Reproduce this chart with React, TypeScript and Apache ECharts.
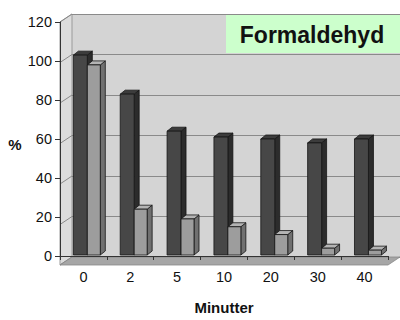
import React, { useEffect, useRef } from "react";
import * as echarts from "echarts";

const categories = ["0", "2", "5", "10", "20", "30", "40"];
const darkValues = [103, 83, 64, 61, 60, 58, 60];
const lightValues = [98, 24, 19, 15, 11, 4, 3];
const yTicks = [0, 20, 40, 60, 80, 100, 120];

const FRONT = { left: 60, top: 22, width: 328, height: 243 };
const DEPTH = { dx: 12, dy: -8 };
const BAR_D = { dx: 5, dy: -4 };

function makeBarSeries(values: number[], off0: number, off1: number, colors: { front: string; side: string; top: string }) {
  return {
    type: "custom",
    xAxisIndex: 0,
    yAxisIndex: 0,
    z: 5,
    encode: { x: 0, y: 1 },
    data: values.map((v, i) => [i, v]),
    renderItem: (params: any, api: any) => {
      const idx = api.value(0);
      const v = api.value(1);
      const base = api.coord([idx, 0]);
      const top = api.coord([idx, v]);
      const bw = api.size([1, 0])[0];
      const x0 = base[0] + off0 * bw;
      const x1 = base[0] + off1 * bw;
      const yb = base[1] - 1;
      const yt = top[1];
      const { dx, dy } = BAR_D;
      const stroke = { stroke: "#151515", lineWidth: 0.8 };
      return {
        type: "group",
        children: [
          {
            type: "polygon",
            shape: { points: [[x1, yb], [x1 + dx, yb + dy], [x1 + dx, yt + dy], [x1, yt]] },
            style: { fill: colors.side, ...stroke },
          },
          {
            type: "polygon",
            shape: { points: [[x0, yt], [x1, yt], [x1 + dx, yt + dy], [x0 + dx, yt + dy]] },
            style: { fill: colors.top, ...stroke },
          },
          {
            type: "polygon",
            shape: { points: [[x0, yb], [x1, yb], [x1, yt], [x0, yt]] },
            style: { fill: colors.front, ...stroke },
          },
        ],
      };
    },
  };
}

export default function App() {
  const ref = useRef<HTMLDivElement>(null);
  useEffect(() => {
    if (!ref.current) return;
    const chart = echarts.init(ref.current, null, { renderer: "svg" });
    const { left, top, width, height } = FRONT;
    const bottomY = top + height;
    const pxPerUnit = height / 120;
    const sideLines = yTicks.map((t) => {
      const y = bottomY - t * pxPerUnit;
      return {
        type: "line",
        z: 1,
        shape: { x1: left, y1: y, x2: left + DEPTH.dx, y2: y + DEPTH.dy },
        style: { stroke: "#8a8a8a", lineWidth: 1 },
      };
    });
    chart.setOption({
      animation: false,
      backgroundColor: "#ffffff",
      grid: [
        { left, top, width, height, containLabel: false },
        {
          left: left + DEPTH.dx,
          top: top + DEPTH.dy,
          width,
          height,
          show: true,
          backgroundColor: "#d4d4d4",
          borderWidth: 0,
        },
      ],
      xAxis: [
        {
          type: "category",
          gridIndex: 0,
          data: categories,
          boundaryGap: true,
          axisLine: { show: true, lineStyle: { color: "#333", width: 1 } },
          axisTick: { show: true, length: 4, lineStyle: { color: "#333" } },
          axisLabel: { fontSize: 14.5, color: "#111", margin: 13, fontFamily: "Liberation Sans" },
          name: "Minutter",
          nameLocation: "middle",
          nameGap: 44,
          nameTextStyle: { fontSize: 15, fontWeight: "bold", color: "#111", fontFamily: "Liberation Sans" },
          splitLine: { show: false },
          z: 3,
        },
        {
          type: "category",
          gridIndex: 1,
          data: categories,
          show: false,
        },
      ],
      yAxis: [
        {
          type: "value",
          gridIndex: 0,
          min: 0,
          max: 120,
          interval: 20,
          axisLine: { show: true, lineStyle: { color: "#333", width: 1 } },
          axisTick: { show: true, length: 5, lineStyle: { color: "#333" } },
          axisLabel: { fontSize: 14.5, color: "#111", margin: 8, fontFamily: "Liberation Sans" },
          splitLine: { show: false },
          z: 3,
        },
        {
          type: "value",
          gridIndex: 1,
          min: 0,
          max: 120,
          interval: 20,
          axisLine: { show: false },
          axisTick: { show: false },
          axisLabel: { show: false },
          splitLine: { show: true, lineStyle: { color: "#8a8a8a", width: 1 } },
        },
      ],
      graphic: [
        {
          type: "polygon",
          z: 0,
          shape: {
            points: [
              [left, top],
              [left + DEPTH.dx, top + DEPTH.dy],
              [left + DEPTH.dx, bottomY + DEPTH.dy],
              [left, bottomY],
            ],
          },
          style: { fill: "#dcdcdc", stroke: "#9a9a9a", lineWidth: 1 },
        },
        ...sideLines,
        {
          type: "polygon",
          z: 1,
          shape: {
            points: [
              [left, bottomY],
              [left + width, bottomY],
              [left + width + DEPTH.dx, bottomY + DEPTH.dy],
              [left + DEPTH.dx, bottomY + DEPTH.dy],
            ],
          },
          style: { fill: "#a6a6a6", stroke: "#888", lineWidth: 0.8 },
        },
        {
          type: "text",
          z: 3,
          style: {
            x: 15,
            y: 144,
            text: "%",
            fontSize: 15,
            fontWeight: "bold",
            fill: "#111",
            align: "center",
            verticalAlign: "middle",
            fontFamily: "Liberation Sans",
          },
        },
        {
          type: "rect",
          z: 10,
          shape: { x: 226, y: 15, width: 174, height: 38 },
          style: { fill: "#ccffcc" },
        },
        {
          type: "text",
          z: 11,
          style: {
            x: 312,
            y: 35,
            text: "Formaldehyd",
            fontSize: 23,
            fontWeight: "bold",
            fill: "#111",
            align: "center",
            verticalAlign: "middle",
            fontFamily: "Liberation Sans",
          },
        },
      ],
      series: [
        makeBarSeries(darkValues, -0.215, 0.083, { front: "#474747", side: "#2c2c2c", top: "#3c3c3c" }),
        makeBarSeries(lightValues, 0.083, 0.36, { front: "#9d9d9d", side: "#707070", top: "#b4b4b4" }),
      ],
    });
    return () => chart.dispose();
  }, []);
  return <div ref={ref} style={{ width: 400, height: 320, position: "absolute", left: 0, top: 0 }} />;
}
